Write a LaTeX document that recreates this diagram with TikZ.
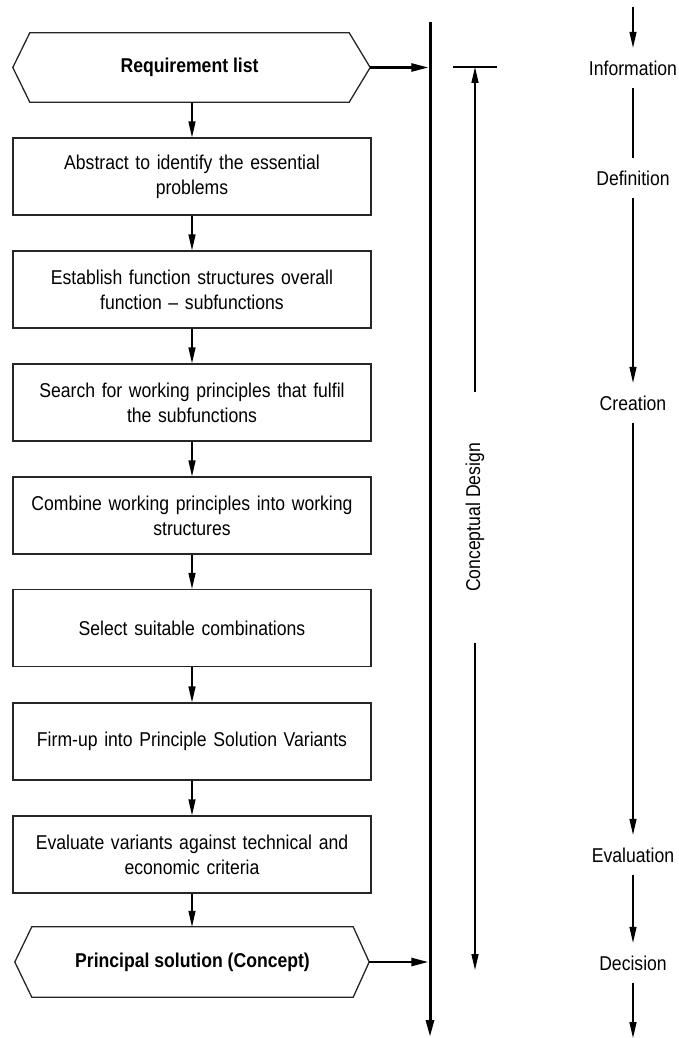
\documentclass[tikz,border=0pt]{standalone}
\usepackage{fontspec}
\setmainfont{Liberation Sans}[FakeStretch=0.88]
\usetikzlibrary{arrows.meta}
\begin{document}
\begin{tikzpicture}[x=1pt,y=-1pt,
  txt/.style={font=\fontsize{20}{25}\selectfont, text=black},
  stepbox/.style={txt, draw=black!85, line width=1.3pt, rectangle,
    minimum width=358pt, minimum height=77pt, text width=340pt, align=center, inner sep=0pt},
  hexlabel/.style={txt, font=\fontsize{20}{25}\selectfont\bfseries, rectangle, inner sep=0pt},
  hexline/.style={draw=black!85, line width=1.3pt, line join=miter},
  flow/.style={draw=black, line width=1.3pt, -{Triangle[length=16pt,width=7pt]}},
  feed/.style={draw=black, line width=2.4pt, -{Triangle[length=17pt,width=8pt]}},
  axis/.style={draw=black, line width=3pt, -{Triangle[length=17pt,width=8pt]}},
  phase/.style={txt, minimum height=40pt, inner sep=0pt},
  span/.style={draw=black, line width=1.3pt},
]
\useasboundingbox (0,0) rectangle (678,1038);

% main process column
\node[hexlabel, minimum width=319pt, minimum height=69pt] (req) at (189.5,67.5) {Requirement list};
\draw[hexline] (req.north west) -- (req.north east) -- ([xshift=21pt]req.east) coordinate (reqtip)
  -- (req.south east) -- (req.south west) -- ([xshift=-17pt]req.west) -- cycle;

\node[stepbox] (s1) at (192,176.5) {Abstract to identify the essential\\problems};
\node[stepbox] (s2) at (192,289.5) {Establish function structures overall\\function -- subfunctions};
\node[stepbox] (s3) at (192,402.5) {Search for working principles that fulfil\\the subfunctions};
\node[stepbox] (s4) at (192,515.5) {Combine working principles into working\\structures};
\node[stepbox] (s5) at (192,628) {Select suitable combinations};
\node[stepbox] (s6) at (192,741.5) {Firm-up into Principle Solution Variants};
\node[stepbox] (s7) at (192,854.5) {Evaluate variants against technical and\\economic criteria};

\node[hexlabel, minimum width=321pt, minimum height=70pt] (sol) at (192.5,962) {Principal solution (Concept)};
\draw[hexline] (sol.north west) -- (sol.north east) -- ([xshift=16pt]sol.east) coordinate (soltip)
  -- (sol.south east) -- (sol.south west) -- ([xshift=-17pt]sol.west) -- cycle;

\draw[flow] (req.south -| s1.north) -- (s1.north);
\draw[flow] (s1) -- (s2);
\draw[flow] (s2) -- (s3);
\draw[flow] (s3) -- (s4);
\draw[flow] (s4) -- (s5);
\draw[flow] (s5) -- (s6);
\draw[flow] (s6) -- (s7);
\draw[flow] (s7.south) -- (s7.south |- sol.north);

% design axis
\coordinate (axtop) at (430,22);
\coordinate (axbot) at (430,1037);
\draw[axis] (axtop) -- (axbot);
\draw[feed, shorten >=1.6pt] (reqtip) -- (reqtip -| axtop);
\draw[feed, shorten >=1.6pt] (soltip) -- (soltip -| axtop);

% conceptual design span
\coordinate (barL) at (453,67);
\coordinate (barR) at (497,67);
\coordinate (ctop) at (475,67);
\coordinate (cbot) at (475,970);
\draw[span] (barL) -- (barR);
\node[txt, rotate=90, minimum width=250pt, inner sep=0pt] (cd) at (475,517.5) {Conceptual Design};
\draw[flow] (cd.east) -- (ctop);
\draw[flow] (cd.west) -- (cbot);

% working steps
\coordinate (wtop) at (633,7);
\coordinate (wbot) at (633,1038);
\node[phase] (inf) at (633,68) {Information};
\node[phase] (def) at (633,178) {Definition};
\node[phase] (cre) at (633,403) {Creation};
\node[phase] (eva) at (633,855) {Evaluation};
\node[phase] (dec) at (633,963) {Decision};
\draw[flow] (wtop) -- (inf);
\draw[span] (inf) -- (def);
\draw[flow] (def) -- (cre);
\draw[flow] (cre) -- (eva);
\draw[flow] (eva) -- (dec);
\draw[flow] (dec) -- (wbot);
\end{tikzpicture}
\end{document}
